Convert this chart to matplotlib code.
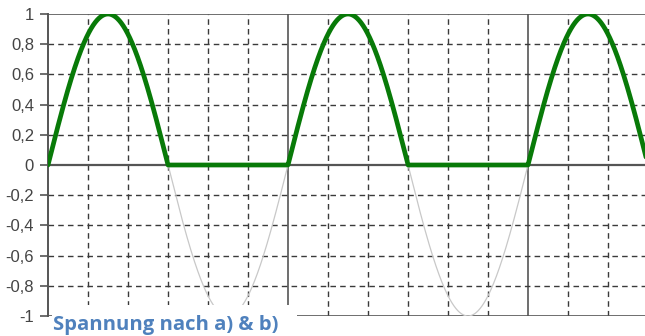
import numpy as np
import matplotlib.pyplot as plt
from matplotlib.patches import Rectangle

# Signal: half-wave rectified sine, period = 6 grid divisions
amplitude = 1.0
period = 6.0
x_max = 15.0
yticks = [1, 0.8, 0.6, 0.4, 0.2, 0, -0.2, -0.4, -0.6, -0.8, -1]
ytick_labels = ["1", "0,8", "0,6", "0,4", "0,2", "0", "-0,2", "-0,4", "-0,6", "-0,8", "-1"]
title = "Spannung nach a) & b)"

t = np.linspace(0, x_max, 3000)
sine = amplitude * np.sin(2 * np.pi * t / period)
rectified = np.clip(sine, 0, None)

W, H = 645, 336
fig = plt.figure(figsize=(W / 100, H / 100), dpi=100)
ax = fig.add_axes([48 / W, 20 / H, 600 / W, 302 / H])

grid_col = "#3a3a3a"
# grid
for xv in range(1, 16):
    if xv % 6 == 0:
        ax.axvline(xv, color="#555555", lw=1.2, zorder=1)
    else:
        ax.axvline(xv, color=grid_col, lw=1.0, ls=(0, (4, 3)), zorder=1)
for yv in yticks:
    if yv == 0:
        ax.axhline(0, color="#555555", lw=1.6, zorder=1)
    elif abs(yv) == 1:
        ax.axhline(yv, color="#555555", lw=1.2, zorder=1)
    else:
        ax.axhline(yv, color=grid_col, lw=1.0, ls=(0, (4, 3)), zorder=1)

ax.plot(t, sine, color="#c8c8c8", lw=0.9, zorder=2)
ax.plot(t, rectified, color="#087a08", lw=3.4, zorder=3, solid_capstyle="round")

ax.set_xlim(0, x_max)
ax.set_ylim(-1, 1)
ax.set_yticks(yticks)
ax.set_yticklabels(ytick_labels, family="Liberation Sans", fontsize=12, color="#444444")
ax.set_xticks([])
ax.tick_params(axis="y", length=6, width=1.2, color="#555555", pad=4)
for s in ["top", "right", "bottom"]:
    ax.spines[s].set_visible(False)
ax.spines["left"].set_color("#555555")
ax.spines["left"].set_linewidth(1.4)

fig.patches.append(Rectangle((52 / W, 0), 245 / W, 31 / H, transform=fig.transFigure,
                             facecolor="white", edgecolor="none", zorder=5))
fig.text(53 / W, 6 / H, title, family="Open Sans", fontweight="bold", fontsize=14.6,
         color="#4f81bd", ha="left", va="baseline", zorder=6)

fig.savefig("out.png", dpi=100)
